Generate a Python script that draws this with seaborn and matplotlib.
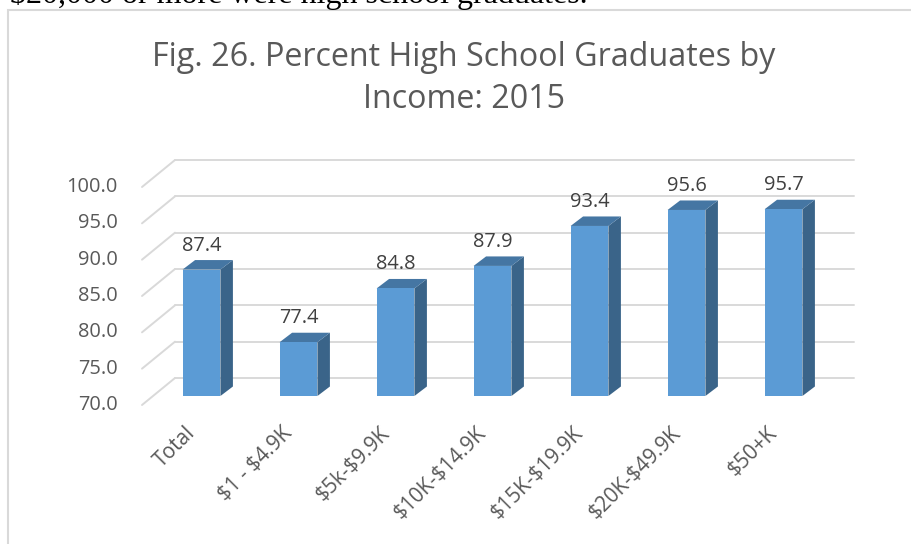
import pandas as pd
import matplotlib.pyplot as plt
import seaborn as sns
from matplotlib.patches import Polygon, Rectangle

# chart data
categories = ['Total', '$1 - $4.9K', '$5k-$9.9K', '$10K-$14.9K',
              '$15K-$19.9K', '$20K-$49.9K', '$50+K']
values = [87.4, 77.4, 84.8, 87.9, 93.4, 95.6, 95.7]
yticks = [70, 75, 80, 85, 90, 95, 100]
title_lines = ['Fig. 26. Percent High School Graduates by', 'Income: 2015']
doc_text = '$20,000 or more were high school graduates.'

sns.set_style('white')
plt.rcParams['font.family'] = ['Open Sans', 'DejaVu Sans']

W, H = 912, 544
fig = plt.figure(figsize=(W / 100, H / 100), dpi=100)

# axes = plane of the bar front faces
ax = fig.add_axes([153 / W, 1 - 396 / H, 679 / W, 218 / H])
df = pd.DataFrame({'group': categories, 'pct': values})
sns.barplot(data=df, x='group', y='pct', color='#5b9bd5', width=0.39,
            saturation=1, linewidth=0, ax=ax, zorder=3)
ax.set_xlim(-0.5, len(categories) - 0.5)
ax.set_ylim(yticks[0], yticks[-1])
ax.axis('off')

# pixel -> data unit helpers
ppx = 679 / len(categories)
ppy = 218 / (yticks[-1] - yticks[0])
def dx(px):
    return px / ppx
def dy(px):
    return px / ppy

x0, x1 = -0.5, len(categories) - 0.5
grid_c = '#d9d9d9'
back = (22, 18)   # bar plane -> back wall
front = (-11, -9)  # bar plane -> front (label) plane
for t in yticks:
    # back wall gridline
    ax.plot([x0 + dx(back[0]), x1 + dx(back[0])], [t + dy(back[1])] * 2,
            color=grid_c, lw=1.4, clip_on=False, zorder=0)
    # left wall diagonal
    ax.plot([x0 + dx(front[0]), x0 + dx(back[0])],
            [t + dy(front[1]), t + dy(back[1])],
            color=grid_c, lw=1.4, clip_on=False, zorder=0)
    ax.text(x0 - dx(35), t - dy(9), f'{t:.1f}', ha='right', va='center',
            fontsize=14.4, color='#595959')

# 3d faces of the bars
bw = 0.39
depth = (12.5, 9.5)
base = yticks[0]
for i, v in enumerate(values):
    xl, xr = i - bw / 2, i + bw / 2
    side = [(xr, base), (xr, v), (xr + dx(depth[0]), v + dy(depth[1])),
            (xr + dx(depth[0]), base + dy(depth[1]))]
    top = [(xl, v), (xr, v), (xr + dx(depth[0]), v + dy(depth[1])),
           (xl + dx(depth[0]), v + dy(depth[1]))]
    ax.add_patch(Polygon(side, closed=True, fc='#3a6489', ec='none',
                         clip_on=False, zorder=2))
    ax.add_patch(Polygon(top, closed=True, fc='#4576a3', ec='none',
                         clip_on=False, zorder=2))
    ax.text(i, v + dy(24), f'{v:.1f}', ha='center', va='center',
            fontsize=14.4, color='#404040')
    # category labels on the front plane
    ax.text(i - dx(9), base - dy(34), categories[i], rotation=45,
            rotation_mode='anchor', ha='right', va='center',
            fontsize=15, color='#595959', parse_math=False)

# title
fig.text(464 / W, 1 - 66 / H, title_lines[0], ha='center', va='baseline',
         fontsize=23.2, color='#595959')
fig.text(464 / W, 1 - 108 / H, title_lines[1], ha='center', va='baseline',
         fontsize=23.2, color='#595959')

# chart border and clipped document text above it
fig.patches.append(Rectangle((8 / W, -0.1), 1.2, 1.1 - 10 / H,
                             transform=fig.transFigure, fill=False,
                             ec='#d9d9d9', lw=1.5))
fig.text(10 / W, 1 - 3 / H, doc_text, ha='left', va='baseline',
         fontsize=23, family='Liberation Serif', color='black',
         parse_math=False)

fig.savefig('out.png', dpi=100)
